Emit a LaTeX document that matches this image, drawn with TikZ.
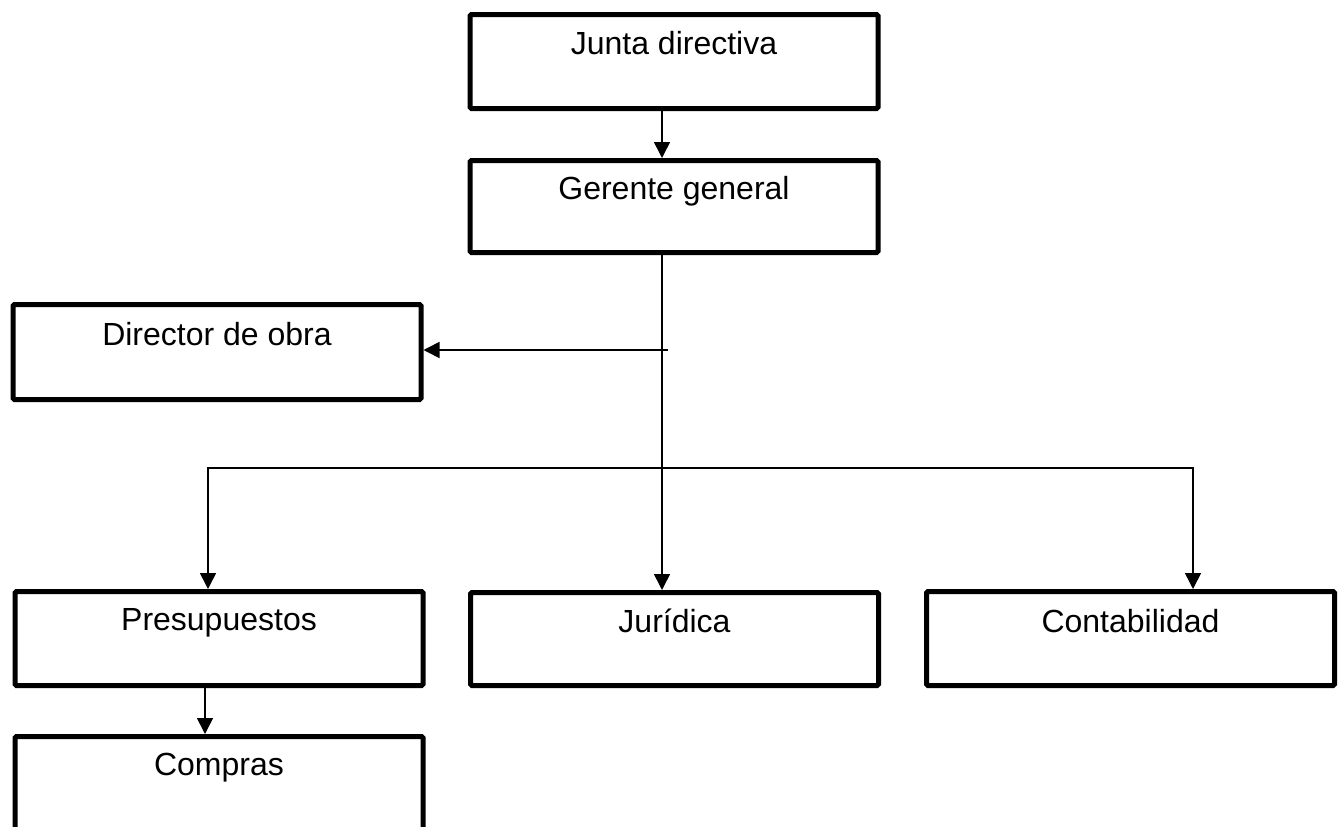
\documentclass[tikz,border=0pt]{standalone}
\usepackage{fontspec}
\setmainfont{Liberation Sans}
\usetikzlibrary{arrows.meta}
\begin{document}
\begin{tikzpicture}[x=1pt,y=-1pt,
  box/.style={draw=black, line width=5pt, rounded corners=1.5pt, inner sep=0pt,
    minimum width=408pt, text height=40pt, text depth=54pt, anchor=north,
    font=\fontsize{32}{38}\selectfont},
  conn/.style={draw=black, line width=1.6pt},
  arr/.style={conn, -{Triangle[length=16pt,width=16pt]}}]
\useasboundingbox (0,0) rectangle (1344,827);
\clip (0,0) rectangle (1344,827);
\node[box] (junta) at (674,12) {Junta directiva};
\node[box, text height=39pt, text depth=53pt] (gerente) at (674,158) {Gerente general};
\node[box, text height=41pt] (director) at (217,302) {Director de obra};
\node[box, text height=39pt, text depth=55pt] (presup) at (219,589) {Presupuestos};
\node[box, text height=40pt, text depth=53pt] (juridica) at (674.5,590) {Jurídica};
\node[box, text height=41pt, text depth=53pt] (conta) at (1130.5,589) {Contabilidad};
\node[box, text height=39pt, text depth=56pt] (compras) at (219,734) {Compras};
\coordinate (dstart) at (668,350);
\coordinate (branch) at (662,468);
\draw[arr] ([xshift=-12pt]junta.south) -- ([xshift=-12pt]gerente.north);
\draw[arr] ([xshift=-12pt]gerente.south) -- ([xshift=-12.5pt]juridica.north);
\draw[arr] (dstart) -- (dstart -| director.east);
\draw[arr] (branch) -| ([xshift=-11pt]presup.north);
\draw[arr] (branch) -| ([xshift=62.5pt]conta.north);
\draw[arr] ([xshift=-14pt]presup.south) -- ([xshift=-14pt]compras.north);
\end{tikzpicture}
\end{document}
